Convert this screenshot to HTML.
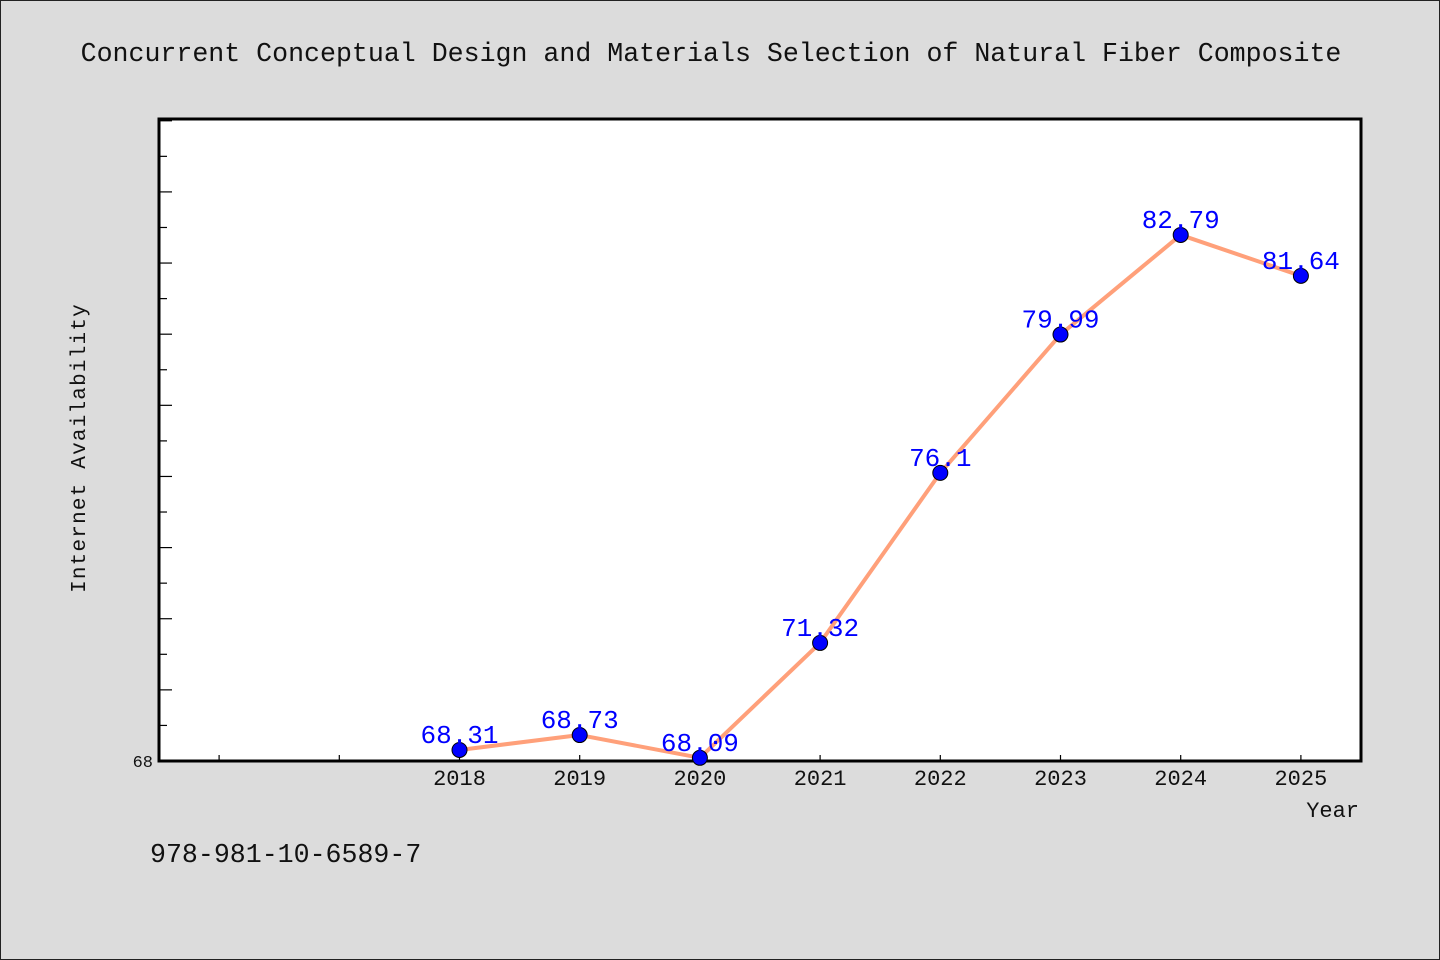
<!DOCTYPE html>
<html><head><meta charset="utf-8"><style>
html,body{margin:0;padding:0;background:#dcdcdc;}
svg{display:block;font-family:"Liberation Mono","WenQuanYi Zen Hei",monospace;}
</style></head><body>
<svg id="chart" width="1440" height="960">
<rect x="0.5" y="0.5" width="1439" height="959" fill="#dcdcdc" stroke="#222"/>
<text x="711" y="61" text-anchor="middle" font-size="26.6" fill="#111">Concurrent Conceptual Design and Materials Selection of Natural Fiber Composite</text>
<rect x="159" y="119" width="1202" height="642" fill="#fff" stroke="#000" stroke-width="3"/>
<g id="yticks"></g><g id="xticks"></g>
<text x="85" y="448" transform="rotate(-90 85 448)" text-anchor="middle" font-size="21" fill="#111" letter-spacing="1.2">Internet Availability</text>
<text x="1359" y="817" text-anchor="end" font-size="22" fill="#111">Year</text>
<text x="150" y="862" font-size="26.6" fill="#111">978-981-10-6589-7</text>
<g id="series"></g>
</svg>
<script>
const years = [2018, 2019, 2020, 2021, 2022, 2023, 2024, 2025];
const values = [68.31, 68.73, 68.09, 71.32, 76.1, 79.99, 82.79, 81.64];
const yTickLabels = ["68"];
const NS = "http://www.w3.org/2000/svg";
const L = 159, R = 1361, T = 119, B = 761;
const xMin = 2015.5, xMax = 2025.5, yMin = 68, yMax = 86.05;
const xs = v => L + (v - xMin) / (xMax - xMin) * (R - L);
const ys = v => B - (v - yMin) / (yMax - yMin) * (B - T);
function mk(tag, attrs, parent){const e=document.createElementNS(NS,tag);for(const k in attrs)e.setAttribute(k,attrs[k]);parent.appendChild(e);return e;}
const yt = document.getElementById('yticks');
for (let v = 69; v <= 86; v++) {
  const y = ys(v);
  const len = v % 2 === 0 ? 13 : 8;
  const t = mk('line',{x1:L,x2:L+len,y1:y,y2:y,stroke:'#000','stroke-width':1.2},yt);
  
  
}
const yl = mk('text',{x:L-6,y:ys(68)+6,'text-anchor':'end','font-size':17,fill:'#111'},yt);
yl.textContent = yTickLabels[0];


const xt = document.getElementById('xticks');
for (let yr = 2016; yr <= 2025; yr++) {
  const x = xs(yr);
  const t = mk('line',{x1:x,x2:x,y1:B,y2:B-6,stroke:'#000','stroke-width':1.2},xt);
  
  
}
years.forEach(yr => {
  const t = mk('text',{x:xs(yr),y:B+24,'text-anchor':'middle','font-size':22,fill:'#111'},xt);
  t.textContent = yr;
  
  
});
const sg = document.getElementById('series');
const pts = years.map((yr,i)=>xs(yr)+','+ys(values[i])).join(' ');
const line = mk('polyline',{points:pts,fill:'none',stroke:'#ffa07a','stroke-width':4,'stroke-linejoin':'round'},sg);


years.forEach((yr,i)=>{
  const c = mk('circle',{cx:xs(yr),cy:ys(values[i]),r:7.5,fill:'#0000ff',stroke:'#000','stroke-width':1},sg);
  
  
  const t = mk('text',{x:xs(yr),y:ys(values[i])-7,'text-anchor':'middle','font-size':26,fill:'#0000ff'},sg);
  t.textContent = values[i];
  
  
});
</script>
</body></html>
